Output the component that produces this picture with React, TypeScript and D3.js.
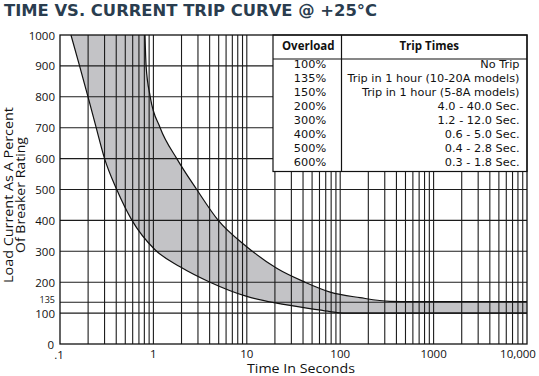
import React from "react";
import * as d3 from "d3";

const W = 539;
const H = 376;

const titleText = "TIME VS. CURRENT TRIP CURVE @ +25°C";
const yTicks = [0, 100, 200, 300, 400, 500, 600, 700, 800, 900, 1000];
const yExtraTick = 135;
const xTickValues = [0.1, 1, 10, 100, 1000, 10000];
const xTickLabels = [".1", "1", "10", "100", "1000", "10,000"];

// Fast-trip (minimum time) boundary: [seconds, percent]
const minCurve: [number, number][] = [
  [0.131, 1000], [0.162, 900], [0.1995, 800], [0.244, 700], [0.3, 600],
  [0.405, 500], [0.59, 400], [1.04, 305], [1.93, 250], [4.04, 200],
  [10, 154], [20.9, 132], [51.5, 113], [78, 105], [108, 100], [10000, 100],
];
// Slow-trip (maximum time) boundary: [seconds, percent]
const maxCurve: [number, number][] = [
  [0.813, 1000], [0.835, 900], [0.925, 800], [1.18, 700], [1.78, 600],
  [2.91, 500], [4.95, 400], [9.97, 315], [20.9, 245], [42, 200],
  [78, 168], [163, 150], [341, 138], [600, 137], [10000, 137],
];

const overloads = ["100%", "135%", "150%", "200%", "300%", "400%", "500%", "600%"];
const tripTimes = [
  "No Trip",
  "Trip in 1 hour (10-20A models)",
  "Trip in 1 hour (5-8A models)",
  "4.0 - 40.0 Sec.",
  "1.2 - 12.0 Sec.",
  "0.6 - 5.0 Sec.",
  "0.4 - 2.8 Sec.",
  "0.3 - 1.8 Sec.",
];

const FONT = "'Open Sans', sans-serif";
const WIDE = "'DejaVu Sans', sans-serif";

export default function App() {
  const left = 60, right = 527, top = 35, bottom = 344;
  const x = d3.scaleLog().domain([0.1, 10000]).range([left, right]);
  const y = d3.scaleLinear().domain([0, 1000]).range([bottom, top]);

  const line = d3
    .line<[number, number]>()
    .x((d) => x(d[0]))
    .y((d) => y(d[1]))
    .curve(d3.curveMonotoneX);

  const minPath = line(minCurve) || "";
  const maxPath = line(maxCurve) || "";
  const maxRev = (line([...maxCurve].reverse()) || "").replace(/^M/, "L");
  const fillPath = minPath + maxRev + "Z";

  const vGrid: number[] = [];
  [0.1, 1, 10, 100, 1000].forEach((dec) => {
    for (let k = 1; k <= 9; k++) {
      const v = dec * k;
      if (v > 0.1 && v < 10000) vGrid.push(v);
    }
  });
  const hGrid = [...yTicks.filter((v) => v > 0 && v < 1000), yExtraTick];

  // table geometry
  const tL = 273, tR = right, tT = top, tB = 171.5, tDiv = 341.5, tHead = 59;
  const rowY0 = 64.5, rowStep = 14.05;

  return (
    <svg
      width={W}
      height={H}
      style={{ position: "absolute", left: 0, top: 0, background: "#fff" }}
    >
      <text
        x={4}
        y={15.5}
        fontFamily={WIDE}
        fontWeight={700}
        fontSize={16.5}
        fill="#2a3d4f"
        textLength={373}
        lengthAdjust="spacingAndGlyphs"
      >
        {titleText}
      </text>

      <path d={fillPath} fill="#c3c3c6" stroke="none" />

      <g stroke="#1c1c1c" strokeWidth={1.1}>
        {vGrid.map((v) => (
          <line key={"v" + v} x1={x(v)} x2={x(v)} y1={top} y2={bottom} />
        ))}
        {hGrid.map((v) => (
          <line key={"h" + v} x1={left} x2={right} y1={y(v)} y2={y(v)} />
        ))}
      </g>

      <path d={minPath} fill="none" stroke="#111" strokeWidth={1.2} />
      <path d={maxPath} fill="none" stroke="#111" strokeWidth={1.2} />

      {/* table */}
      <rect x={tL} y={tT} width={tR - tL} height={tB - tT} fill="#fff" stroke="#111" strokeWidth={1.2} />
      <line x1={tL} x2={tR} y1={tHead} y2={tHead} stroke="#111" strokeWidth={1.2} />
      <line x1={tDiv} x2={tDiv} y1={tT} y2={tB} stroke="#111" strokeWidth={1.2} />
      <text x={(tL + tDiv) / 2 + 1} y={47} textAnchor="middle" dominantBaseline="middle" fontFamily={FONT} fontWeight={700} fontSize={11.5} fill="#111">
        Overload
      </text>
      <text x={(tDiv + tR) / 2 - 5} y={47} textAnchor="middle" dominantBaseline="middle" fontFamily={FONT} fontWeight={700} fontSize={11.5} fill="#111">
        Trip Times
      </text>
      {overloads.map((o, i) => (
        <text key={"o" + i} x={310} y={rowY0 + i * rowStep} textAnchor="middle" dominantBaseline="middle" fontFamily={WIDE} fontSize={11.3} fill="#111">
          {o}
        </text>
      ))}
      {tripTimes.map((t, i) => (
        <text key={"t" + i} x={519.5} y={rowY0 + i * rowStep} textAnchor="end" dominantBaseline="middle" fontFamily={WIDE} fontSize={11.3} fill="#111">
          {t}
        </text>
      ))}

      {/* frame */}
      <rect x={left} y={top} width={right - left} height={bottom - top} fill="none" stroke="#111" strokeWidth={1.3} />

      {/* y tick labels */}
      {yTicks.map((v) => (
        <text key={"yt" + v} x={v === 0 ? 54 : 55} y={y(v) + (v === 0 ? 2 : 1.5)} textAnchor="end" dominantBaseline="middle" fontFamily={FONT} fontSize={11.5} fill="#111">
          {v}
        </text>
      ))}
      <text x={55} y={y(yExtraTick) - 1.5} textAnchor="end" dominantBaseline="middle" fontFamily={FONT} fontSize={9} fill="#111">
        {yExtraTick}
      </text>

      {/* x tick labels */}
      {xTickValues.map((v, i) => (
        <text
          key={"xt" + v}
          x={i === 0 ? x(v) - 1 : i === xTickValues.length - 1 ? x(v) - 9 : x(v)}
          y={i === 0 ? 356 : 354.5}
          textAnchor="middle"
          dominantBaseline="middle"
          fontFamily={FONT}
          fontSize={11.5}
          fill="#111"
        >
          {xTickLabels[i]}
        </text>
      ))}

      <text x={301} y={369.5} textAnchor="middle" dominantBaseline="middle" fontFamily={FONT} fontSize={13.5} fill="#111" textLength={108} lengthAdjust="spacingAndGlyphs">
        Time In Seconds
      </text>

      <g transform="translate(0,195) rotate(-90)">
        <text x={0} y={9.5} textAnchor="middle" dominantBaseline="middle" fontFamily={FONT} fontSize={12.5} fill="#111" textLength={176} lengthAdjust="spacingAndGlyphs">
          Load Current As A Percent
        </text>
        <text x={0} y={22} textAnchor="middle" dominantBaseline="middle" fontFamily={FONT} fontSize={12.5} fill="#111" textLength={116} lengthAdjust="spacingAndGlyphs">
          Of Breaker Rating
        </text>
      </g>
    </svg>
  );
}
